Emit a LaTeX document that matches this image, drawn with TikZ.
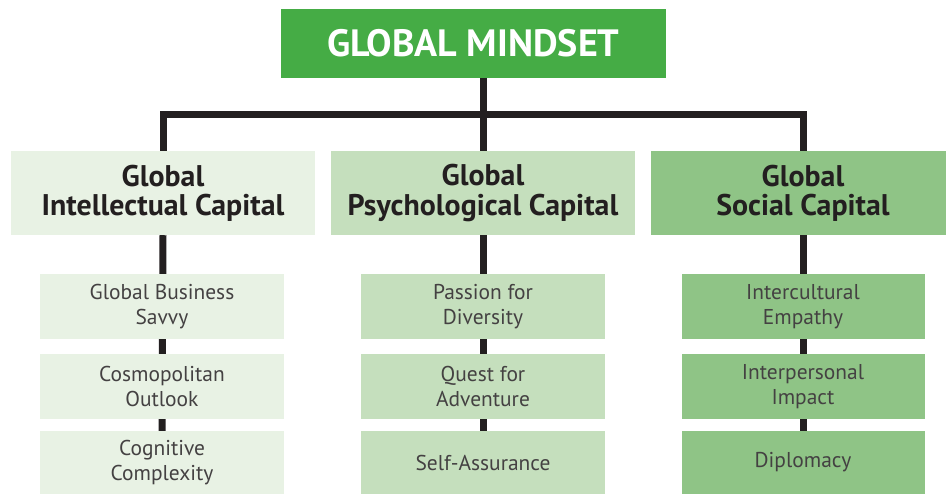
\documentclass[tikz,border=0pt]{standalone}
\usepackage{fontspec}
\setmainfont{PT Sans}
\usepackage{tikz}
\usetikzlibrary{positioning,backgrounds}

\definecolor{mindgreen}{HTML}{45AC45}
\definecolor{intelgreen}{HTML}{E8F2E4}
\definecolor{psychgreen}{HTML}{C5DFBD}
\definecolor{socialgreen}{HTML}{8FC486}
\definecolor{inkdark}{HTML}{231F20}

\tikzset{
  mindbox/.style={fill=mindgreen, text=white, inner sep=0pt,
    minimum width=11.55cm, minimum height=2.07cm,
    font=\fontsize{32.5}{34}\selectfont\bfseries},
  capbox/.style={fill=#1, text=inkdark, align=center, inner sep=0pt,
    minimum width=9.12cm, minimum height=2.52cm,
    font=\fontsize{25.5}{25}\selectfont\bfseries},
  itembox/.style={fill=#1, text=inkdark!85, align=center, inner sep=0pt,
    minimum width=7.29cm, minimum height=1.95cm,
    font=\fontsize{18.3}{21.5}\selectfont},
  link/.style={draw=inkdark, line width=0.21cm, line join=miter}
}

\begin{document}
\begin{tikzpicture}[x=0.03cm, y=-0.03cm]
\useasboundingbox (0,0) rectangle (946,494);

\node[mindbox] (top) at (473.5,43.5) {GLOBAL MINDSET};
\coordinate (bar) at (0,114.5);

% capitals
\node[capbox=intelgreen] (g1) at (163,193) {Global\\Intellectual Capital};
\node[capbox=psychgreen] (g2) at (483,193) {Global\\Psychological Capital};
\node[capbox=socialgreen] (g3) at (803,193) {Global\\Social Capital};

% intellectual
\node[itembox=intelgreen] (a1) at (162,306.5) {Global Business\\Savvy};
\node[itembox=intelgreen] (a2) at (162,386.5) {Cosmopolitan\\Outlook};
\node[itembox=intelgreen, minimum height=1.89cm] (a3) at (162,462.5) {Cognitive\\Complexity};

% psychological
\node[itembox=psychgreen] (b1) at (483,306.5) {Passion for\\Diversity};
\node[itembox=psychgreen] (b2) at (483,386.5) {Quest for\\Adventure};
\node[itembox=psychgreen, minimum height=1.89cm] (b3) at (483,462.5) {Self-Assurance};

% social
\node[itembox=socialgreen] (c1) at (803,306.5) {Intercultural\\Empathy};
\node[itembox=socialgreen] (c2) at (803,386.5) {Interpersonal\\Impact};
\node[itembox=socialgreen, minimum height=1.89cm] (c3) at (803,462.5) {Diplomacy};

\begin{scope}[on background layer]
\draw[link] (top.south -| g2.north) -- (g2.north);
\draw[link] (g1.north) -- (g1.north |- bar) -- (g3.north |- bar) -- (g3.north);
\draw[link] (g1.south) -- (a3.north);
\draw[link] (g2.south) -- (b3.north);
\draw[link] (g3.south) -- (c3.north);
\end{scope}

\end{tikzpicture}
\end{document}
